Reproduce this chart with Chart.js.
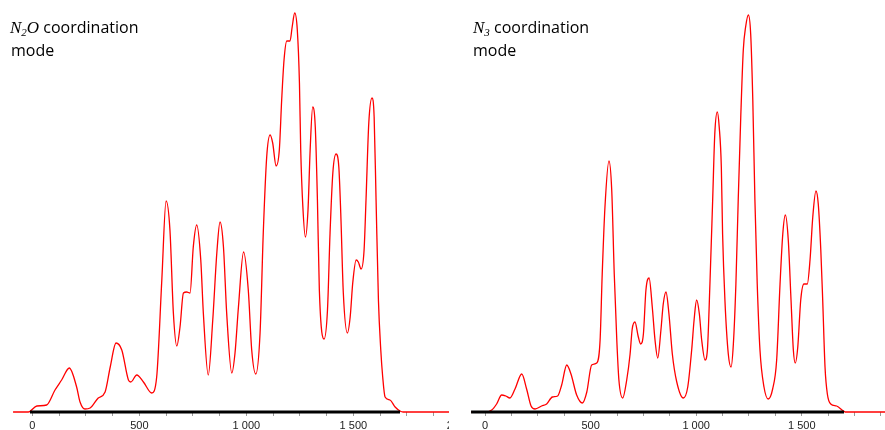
<!DOCTYPE html>
<html>
<head>
<meta charset="utf-8">
<script src="https://cdn.jsdelivr.net/npm/chart.js@4/dist/chart.umd.min.js"></script>
<style>
  html, body { margin: 0; padding: 0; background: #fff; }
  #wrap { position: relative; width: 885px; height: 430px; overflow: hidden; background: #fff; }
  #c1 { position: absolute; left: 0; top: 0; z-index: 1; }
  #c2 { position: absolute; left: 449px; top: 0; z-index: 2; background: #fff; }
  .t { position: absolute; z-index: 5; font-family: "Open Sans", sans-serif; font-size: 16px; line-height: 20px; color: #000; white-space: nowrap; }
  .m { font-family: "Liberation Serif", "DejaVu Serif", serif; font-style: italic; font-size: 17px; }
  .s { font-family: "Liberation Serif", serif; font-style: italic; font-size: 11px; position: relative; top: 3px; }
</style>
</head>
<body>
<div id="wrap">
  <canvas id="c1" width="500" height="430"></canvas>
  <canvas id="c2" width="436" height="430"></canvas>
  <div class="t" style="left:10px; top:17px;"><span class="m">N</span><span class="s">2</span><span class="m">O</span> coordination</div>
  <div class="t" style="left:11px; top:40px;">mode</div>
  <div class="t" style="left:473px; top:17px;"><span class="m">N</span><span class="s">3</span> coordination</div>
  <div class="t" style="left:473px; top:40px;">mode</div>
</div>
<script>
// ---- data (x in axis units, y in arbitrary intensity units) ----
const n2oX = [-90,-19,21,67,106,137,173,207,223,246,270,308,340,364,391,418,449,460,488,519,558,581,605,625,643,659,675,690,706,721,737,752,768,787,799,822,843,862,877,893,908,932,947,963,987,1009,1025,1044,1064,1079,1095,1111,1123,1139,1154,1165,1176,1189,1204,1214,1226,1238,1248,1254,1264,1276,1288,1298,1310,1322,1332,1341,1363,1379,1391,1404,1419,1432,1441,1453,1472,1485,1497,1513,1523,1536,1550,1559,1572,1587,1597,1606,1617,1628,1637,1648,1671,1695,1718,1732,2000];
const n2oY = [0,0,6,7,22,32,44,25,10,3,4,14,20,45,69,62,32,30,37,30,19,35,132,211,182,99,66,85,119,120,119,165,187,152,99,37,92,159,190,165,99,39,59,105,160,122,62,38,79,179,255,277,269,246,262,312,352,371,371,385,399,382,329,262,205,175,202,262,305,285,212,122,73,102,179,239,258,245,199,119,79,95,129,152,150,143,162,212,289,314,295,212,112,62,35,15,12,5,1,0,0];

const n3X = [-66,0,32,55,79,98,118,142,174,197,218,237,268,292,319,344,363,387,407,434,461,482,505,529,545,555,568,587,600,612,624,634,652,671,687,697,710,726,737,750,762,777,792,805,818,833,844,857,871,887,908,939,960,979,990,1002,1015,1026,1042,1053,1065,1078,1088,1100,1109,1119,1125,1136,1152,1165,1176,1188,1199,1211,1223,1234,1247,1258,1268,1278,1289,1302,1321,1341,1362,1381,1397,1410,1422,1436,1449,1460,1469,1481,1495,1510,1526,1539,1552,1567,1578,1590,1599,1610,1621,1637,1665,1697,1705,1900];
const n3Y = [0,0,2,8,17,16,14,23,38,23,6,3,6,8,15,16,27,47,38,17,9,20,47,49,72,138,205,251,222,138,72,32,14,32,58,83,90,75,68,78,122,134,105,72,54,82,108,120,98,58,30,14,25,63,92,112,98,72,52,62,128,212,278,300,285,245,178,112,58,45,68,128,212,295,362,385,397,378,312,212,128,62,25,13,23,52,128,178,197,172,112,62,49,65,112,128,128,152,195,221,208,162,112,45,18,8,6,1,0,0];

// axis baseline (black bar) extents
const n2oAxisX = [-11, 1718];
const n3AxisX = [-66, 1700];

// tick positions and labelled ticks
const xTickValues = [0,125,250,375,500,625,750,875,1000,1125,1250,1375,1500,1625,1750,1875,2000];
const xLabelValues = [0,500,1000,1500,2000];

function fmt(v) {
  if (v >= 1000) { const k = Math.floor(v / 1000); const r = String(v % 1000).padStart(3, '0'); return k + ' ' + r; }
  return String(v);
}
function pts(xs, ys) { return xs.map((x, i) => ({ x: x, y: ys[i] })); }

function makeChart(id, xs, ys, axisX, xmin, xmax) {
  return new Chart(document.getElementById(id), {
    type: 'line',
    data: {
      datasets: [
        {
          data: pts(axisX, [0, 0]),
          borderColor: '#000',
          borderWidth: 3,
          pointRadius: 0,
          borderCapStyle: 'butt',
          order: 0,
          clip: false
        },
        {
          data: pts(xs, ys),
          borderColor: '#ff0000',
          borderWidth: 1.3,
          pointRadius: 0,
          cubicInterpolationMode: 'monotone',
          order: 1,
          clip: false
        }
      ]
    },
    options: {
      responsive: false,
      animation: false,
      devicePixelRatio: 1,
      layout: { padding: 0 },
      plugins: { legend: { display: false }, tooltip: { enabled: false }, title: { display: false } },
      scales: {
        x: {
          type: 'linear',
          min: xmin,
          max: xmax,
          border: { display: false },
          grid: { display: true, drawOnChartArea: false, drawTicks: true, tickLength: 4, color: '#9a9a9a', tickWidth: 1 },
          afterBuildTicks: s => { s.ticks = xTickValues.filter(v => v >= xmin && v <= xmax).map(v => ({ value: v })); },
          afterFit: s => { s.height = 18; },
          ticks: {
            autoSkip: false,
            maxRotation: 0,
            padding: 3,
            color: '#222',
            font: { family: '"Liberation Sans", Arial, sans-serif', size: 11 },
            callback: v => xLabelValues.includes(v) ? fmt(v) : ''
          }
        },
        y: { display: false, min: 0, max: 412 }
      }
    }
  });
}

makeChart('c1', n2oX, n2oY, n2oAxisX, -151, 2185);
makeChart('c2', n3X, n3Y, n3AxisX, -170.5, 1894);
</script>
</body>
</html>
